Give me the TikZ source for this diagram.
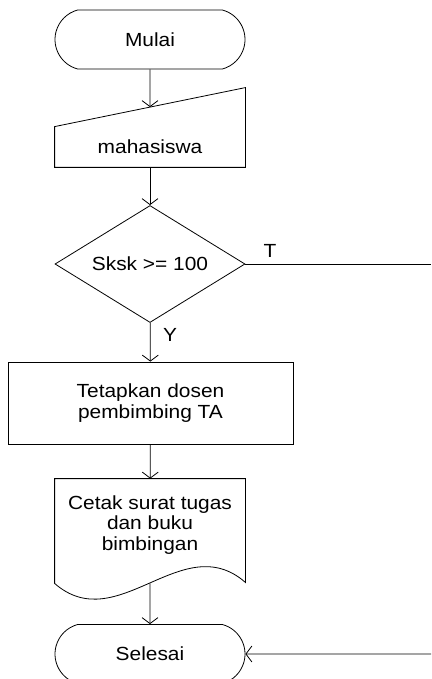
\documentclass[tikz,border=0pt]{standalone}
\usepackage{fontspec}
\setmainfont{Liberation Sans}[FakeStretch=1.1]
\usetikzlibrary{shapes.geometric,shapes.misc,arrows.meta,calc}

\begin{document}
\begin{tikzpicture}[x=1pt, y=-1pt, line width=0.8pt,
    font=\fontsize{19}{20.5}\selectfont,
    terminal/.style={draw, rounded rectangle, rounded rectangle arc length=150,
        minimum width=190pt, minimum height=59pt, inner sep=0pt},
    proses/.style={draw, rectangle, minimum width=285pt, minimum height=82pt, align=center},
    keputusan/.style={draw, diamond, aspect=1.6, inner sep=0pt,
        minimum width=190pt, minimum height=117pt},
    bidang/.style={rectangle, minimum width=190pt, inner sep=0pt, align=center},
    panah/.style={-{Straight Barb[length=6pt,width=16pt]}}]
    \useasboundingbox (0,0) rectangle (431,679);

    \node[terminal] (mulai) at (150,39.5) {Mulai};

    \node[bidang, minimum height=40pt] (input) at (150,147) {mahasiswa};
    \draw (input.north west) -- (input.south west) -- (input.south east) --
    ([yshift=39pt]input.north east) coordinate (inputne) -- cycle;
    \coordinate (inputatas) at ($(input.north west)!.5!(inputne)$);

    \node[keputusan] (cek) at (150,264) {Sksk >= 100};
    \node (tidak) at (270,251) {T};
    \node (ya) at (170,335) {Y};

    \node[proses] (tetapkan) at (150.5,403) {Tetapkan dosen\\pembimbing TA};

    \node[bidang, minimum height=92pt] (cetak) at (150,525) {Cetak surat tugas\\dan buku\\bimbingan};
    \draw (cetak.north west) -- (cetak.north east) -- ([yshift=-11pt]cetak.south east)
    .. controls +(-63,-55) and +(63,55) .. ([yshift=-12pt]cetak.south west) -- cycle;
    \coordinate (cetakbawah) at ([yshift=-12pt]cetak.south);

    \node[terminal] (selesai) at (150,654) {Selesai};

    \coordinate (kanan1) at (431,264);
    \coordinate (kanan2) at (431,654);

    \draw[panah] (mulai) -- (inputatas);
    \draw[panah] (input) -- (cek);
    \draw[panah] (cek) -- (tetapkan);
    \draw (cek) -- (kanan1);
    \draw[panah] (tetapkan) -- (cetak);
    \draw[panah] (cetakbawah) -- (selesai);
    \draw[panah] (kanan2) -- (selesai);
\end{tikzpicture}
\end{document}
